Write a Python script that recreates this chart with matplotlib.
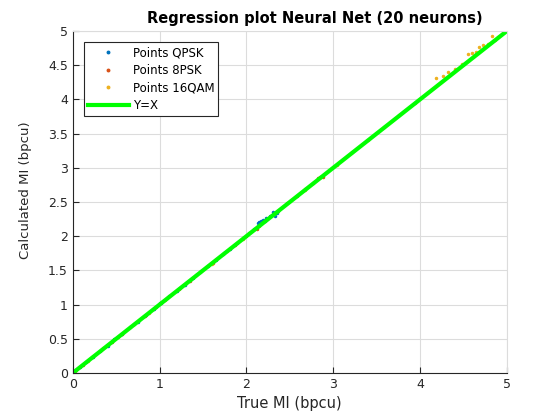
import matplotlib.pyplot as plt

# True MI vs calculated MI (bpcu)
qpsk_true = [0.02, 0.08, 0.15, 0.23, 0.31, 0.40, 0.48, 0.57, 0.66, 0.75, 0.84, 0.93,
             1.00, 1.02, 1.11, 1.20, 1.29, 1.38, 1.47, 1.56, 1.65, 1.73, 1.81, 1.89,
             1.96, 2.03, 2.09, 2.13, 2.15, 2.17, 2.19, 2.21, 2.23, 2.27, 2.31, 2.33, 2.35]
qpsk_calc = [0.03, 0.08, 0.16, 0.23, 0.32, 0.40, 0.49, 0.57, 0.67, 0.75, 0.85, 0.93,
             1.03, 1.02, 1.12, 1.20, 1.29, 1.39, 1.47, 1.57, 1.65, 1.74, 1.81, 1.90,
             1.97, 2.04, 2.10, 2.19, 2.21, 2.22, 2.24, 2.22, 2.26, 2.29, 2.35, 2.30, 2.34]

psk8_true = [0.03, 0.12, 0.22, 0.33, 0.45, 0.57, 0.70, 0.83, 0.96, 1.09, 1.22, 1.35,
             1.48, 1.61, 1.74, 1.87, 2.00, 2.12, 2.24, 2.36, 2.47, 2.58, 2.68, 2.77,
             2.82, 2.85, 2.88]
psk8_calc = [0.03, 0.12, 0.23, 0.33, 0.46, 0.57, 0.71, 0.83, 0.97, 1.09, 1.23, 1.35,
             1.49, 1.61, 1.75, 1.87, 2.01, 2.11, 2.25, 2.37, 2.48, 2.59, 2.69, 2.78,
             2.85, 2.87, 2.87]

qam16_true = [0.04, 0.18, 0.35, 0.52, 0.70, 0.88, 1.06, 1.24, 1.42, 1.60, 1.78, 1.96,
              2.14, 2.32, 2.50, 2.68, 2.86, 3.04, 3.22, 3.40, 3.58, 3.76, 3.94, 4.08,
              4.19, 4.26, 4.32, 4.40, 4.48, 4.55, 4.60, 4.64, 4.68, 4.73, 4.78, 4.83,
              4.86, 4.90]
qam16_calc = [0.05, 0.18, 0.36, 0.52, 0.71, 0.88, 1.07, 1.24, 1.43, 1.60, 1.79, 1.96,
              2.15, 2.32, 2.51, 2.68, 2.87, 3.04, 3.23, 3.40, 3.59, 3.77, 3.95, 4.10,
              4.31, 4.34, 4.40, 4.44, 4.52, 4.66, 4.68, 4.69, 4.77, 4.80, 4.81, 4.93,
              4.87, 4.92]

line_x = [0, 5]
line_y = [0, 5]

fig = plt.figure(figsize=(5.6, 4.2), dpi=100)
ax = fig.add_axes([0.130, 0.112, 0.775, 0.814])

ax.plot(qpsk_true, qpsk_calc, '.', color=(0, 0.447, 0.741), markersize=3, label='Points QPSK')
ax.plot(psk8_true, psk8_calc, '.', color=(0.85, 0.325, 0.098), markersize=3, label='Points 8PSK')
ax.plot(qam16_true, qam16_calc, '.', color=(0.929, 0.694, 0.125), markersize=3, label='Points 16QAM')
ax.plot(line_x, line_y, '-', color='#00ff00', linewidth=3, label='Y=X')

ax.set_xlim(0, 5)
ax.set_ylim(0, 5)
ax.set_xticks([0, 1, 2, 3, 4, 5])
ax.set_yticks([0, 0.5, 1, 1.5, 2, 2.5, 3, 3.5, 4, 4.5, 5])
ax.set_yticklabels(['0', '0.5', '1', '1.5', '2', '2.5', '3', '3.5', '4', '4.5', '5'])
ax.grid(True, color='#dcdcdc', linewidth=0.8)
ax.set_axisbelow(True)
ax.tick_params(direction='in', labelsize=9, length=4, colors='#262626',
               top=False, right=False)
ax.spines['left'].set_color('#262626')
ax.spines['bottom'].set_color('#262626')
ax.spines['top'].set_color('#dcdcdc')
ax.spines['right'].set_color('#dcdcdc')
for s in ax.spines.values():
    s.set_linewidth(0.8)

ax.set_xlabel('True MI (bpcu)', fontsize=10.5, color='#262626')
ax.set_ylabel('Calculated MI (bpcu)', fontsize=9.5, color='#262626')
ax.yaxis.set_label_coords(-0.095, 0.535)
ax.set_title('Regression plot Neural Net (20 neurons)', fontsize=10.5,
             fontweight='bold', x=0.558)

leg = ax.legend(loc='upper left', fontsize=8.5, fancybox=False, framealpha=1,
                edgecolor='#262626', borderpad=0.35, handlelength=3.5,
                handletextpad=0.3, labelspacing=0.4, borderaxespad=0,
                markerscale=1.2, bbox_to_anchor=(0.025, 0.968))
leg.get_frame().set_linewidth(0.8)

fig.savefig('out.png', dpi=100)
